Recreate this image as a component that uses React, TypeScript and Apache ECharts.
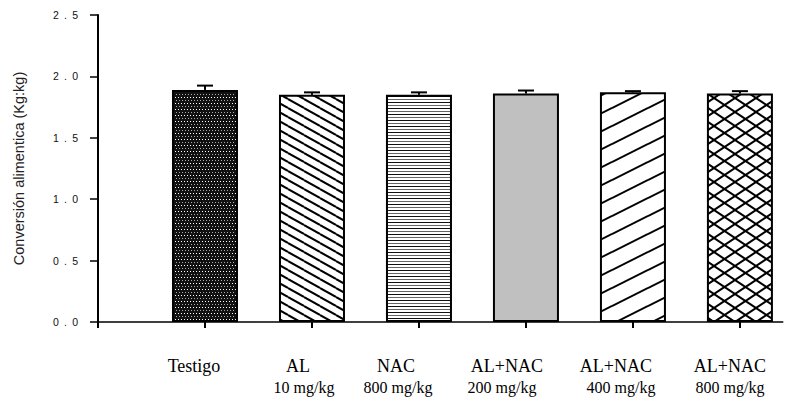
import React, { useEffect, useRef } from "react";
import * as echarts from "echarts";

const categories = ["Testigo", "AL", "NAC", "AL+NAC", "AL+NAC", "AL+NAC"];
const doses = ["", "10 mg/kg", "800 mg/kg", "200 mg/kg", "400 mg/kg", "800 mg/kg"];
const means = [1.89, 1.85, 1.85, 1.86, 1.87, 1.86];
const errors = [0.035, 0.02, 0.02, 0.025, 0.01, 0.02];
const yTicks = [0, 0.5, 1.0, 1.5, 2.0, 2.5];

// styling: horizontal shift (px, to the left) of label line 1 / line 2
const shift1 = [11, 14, 23, 19, 17, 10];
const shift2 = [0, 8, 21, 24, 12, 10];

function makePattern(kind: number): any {
  const c = document.createElement("canvas");
  let w = 8, h = 8;
  if (kind === 0) { w = 6; h = 6; }
  if (kind === 1) { w = 16; h = 9; }
  if (kind === 2) { w = 4; h = 6; }
  if (kind === 4) { w = 36; h = 18; }
  if (kind === 5) { w = 21; h = 14; }
  c.width = w; c.height = h;
  const g = c.getContext("2d")!;
  if (kind === 0) {
    g.fillStyle = "#111"; g.fillRect(0, 0, w, h);
    g.fillStyle = "#fff"; g.fillRect(1, 1, 1, 1); g.fillRect(4, 1, 1, 1);
    g.fillStyle = "#aaa"; g.fillRect(2, 4, 1, 1); g.fillRect(5, 4, 1, 1);
    return c;
  }
  g.fillStyle = kind === 3 ? "#c0c0c0" : "#fff";
  g.fillRect(0, 0, w, h);
  g.strokeStyle = "#000";
  g.lineWidth = 2;
  const seg = (x0: number, y0: number, x1: number, y1: number) => {
    for (const dx of [-w, 0, w]) for (const dy of [-h, 0, h]) {
      g.beginPath(); g.moveTo(x0 + dx, y0 + dy); g.lineTo(x1 + dx, y1 + dy); g.stroke();
    }
  };
  if (kind === 1) seg(0, 0, w, h);
  if (kind === 2) {
    g.fillStyle = "#111"; g.fillRect(0, 0, w, 1);
    g.fillStyle = "#666"; g.fillRect(0, 3, w, 1);
  }
  if (kind === 4) seg(0, h, w, 0);
  if (kind === 5) { g.lineWidth = 2; seg(0, 0, w, h); seg(0, h, w, 0); }
  return c;
}

export default function App() {
  const ref = useRef<HTMLDivElement>(null);
  useEffect(() => {
    if (!ref.current) return;
    const chart = echarts.init(ref.current, undefined, { renderer: "svg" });
    const rich: any = {};
    categories.forEach((_, i) => {
      rich["a" + i] = { fontFamily: "Liberation Serif", fontSize: 18, lineHeight: 22, color: "#000", padding: [0, shift1[i] * 2, 0, 0] };
      rich["b" + i] = { fontFamily: "Liberation Serif", fontSize: 16, lineHeight: 20, color: "#000", padding: [0, shift2[i] * 2, 0, 0] };
    });
    const barData = means.map((v, i) => ({
      value: [i + 1, v],
      itemStyle: {
        color: i === 3 ? "#c0c0c0" : { image: makePattern(i), repeat: "repeat" },
        borderColor: "#000",
        borderWidth: 2,
      },
    }));
    const errData = means.map((v, i) => [i + 1, v, errors[i]]);
    chart.setOption({
      animation: false,
      backgroundColor: "#fff",
      grid: { left: 98, right: 1, top: 15, bottom: 78 },
      xAxis: {
        type: "value",
        min: 0,
        max: 6.4,
        splitLine: { show: false },
        axisLine: { show: true, onZero: false, lineStyle: { color: "#000", width: 1.5 } },
        axisTick: { show: true, length: 6, customValues: [0, 1, 2, 3, 4, 5, 6], lineStyle: { color: "#000", width: 2 } },
        axisLabel: {
          customValues: [1, 2, 3, 4, 5, 6],
          margin: 33,
          rich,
          formatter: (v: number) => {
            const i = Math.round(v) - 1;
            if (i < 0 || i >= categories.length) return "";
            return doses[i] ? `{a${i}|${categories[i]}}\n{b${i}|${doses[i]}}` : `{a${i}|${categories[i]}}`;
          },
        },
      },
      yAxis: {
        type: "value",
        min: 0,
        max: 2.5,
        interval: 0.5,
        name: "Conversión alimentica (Kg:kg)",
        nameLocation: "middle",
        nameGap: 72,
        nameTextStyle: { fontFamily: "Liberation Sans", fontSize: 14.5, color: "#222" },
        splitLine: { show: false },
        axisLine: { show: true, lineStyle: { color: "#000", width: 2 } },
        axisTick: { show: true, length: 8, lineStyle: { color: "#000", width: 1.5 } },
        axisLabel: {
          margin: 20,
          fontFamily: "Liberation Sans",
          fontSize: 10.5,
          color: "#111",
          formatter: (v: number) => {
            const t = yTicks.find((y) => Math.abs(y - v) < 1e-6);
            return (t === undefined ? v : t).toFixed(1).split("").join("\u2002");
          },
        },
      },
      series: [
        {
          type: "bar",
          barWidth: 66,
          data: barData,
          z: 2,
        },
        {
          type: "custom",
          z: 3,
          data: errData,
          renderItem: (params: any, api: any) => {
            const x = api.value(0), v = api.value(1), e = api.value(2);
            const p0 = api.coord([x, v]);
            const p1 = api.coord([x, v + e]);
            return {
              type: "group",
              children: [
                { type: "line", shape: { x1: p0[0], y1: p0[1], x2: p1[0], y2: p1[1] }, style: { stroke: "#000", lineWidth: 2 } },
                { type: "line", shape: { x1: p1[0] - 8, y1: p1[1], x2: p1[0] + 8, y2: p1[1] }, style: { stroke: "#000", lineWidth: 2 } },
              ],
            };
          },
        },
      ],
    });
    return () => chart.dispose();
  }, []);
  return <div ref={ref} style={{ width: 789, height: 400, position: "absolute", left: 0, top: 0 }} />;
}
